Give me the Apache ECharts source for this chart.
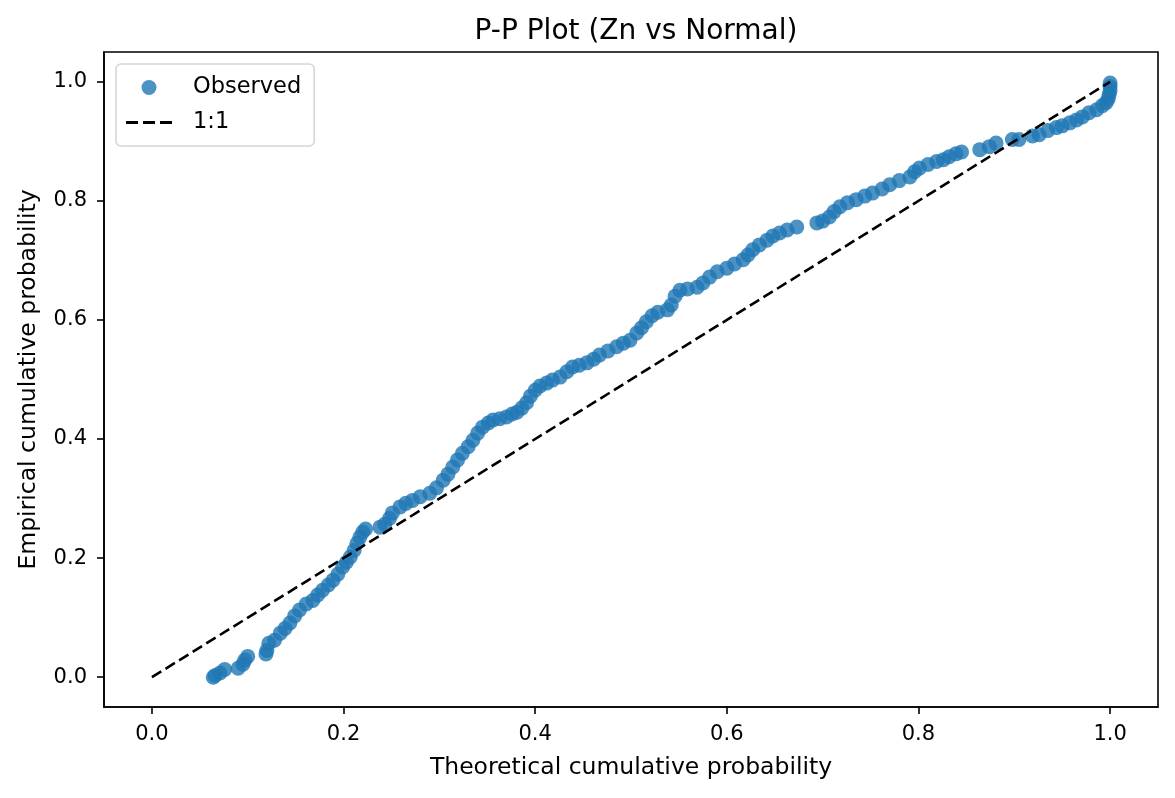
<!DOCTYPE html>
<html>
<head>
<meta charset="utf-8">
<script src="https://cdn.jsdelivr.net/npm/echarts@6/dist/echarts.min.js"></script>
<style>
html,body{margin:0;padding:0;background:#fff;}
#chart{width:1175px;height:798px;}
</style>
</head>
<body>
<div id="chart"></div>
<script>
const observedX = [0.064,0.066,0.071,0.076,0.090,0.095,0.097,0.100,0.119,0.120,0.122,0.128,0.134,0.139,0.144,0.149,0.154,0.161,0.168,0.173,0.178,0.184,0.189,0.194,0.199,0.203,0.207,0.211,0.214,0.217,0.220,0.223,0.238,0.243,0.248,0.251,0.259,0.265,0.272,0.280,0.290,0.297,0.304,0.309,0.314,0.319,0.324,0.330,0.335,0.340,0.345,0.351,0.356,0.363,0.370,0.376,0.381,0.386,0.391,0.395,0.400,0.405,0.412,0.418,0.426,0.433,0.439,0.446,0.454,0.461,0.467,0.476,0.485,0.492,0.499,0.506,0.511,0.516,0.522,0.528,0.538,0.542,0.546,0.551,0.559,0.569,0.575,0.582,0.590,0.600,0.608,0.617,0.622,0.627,0.634,0.642,0.648,0.655,0.663,0.673,0.694,0.700,0.707,0.712,0.718,0.726,0.735,0.744,0.752,0.762,0.770,0.780,0.791,0.796,0.801,0.810,0.819,0.826,0.832,0.839,0.845,0.864,0.874,0.881,0.898,0.905,0.919,0.926,0.935,0.944,0.950,0.958,0.965,0.971,0.978,0.986,0.992,0.996,0.998,0.999,1.000,1.000,1.000];
const observedY = [0.000,0.003,0.007,0.013,0.015,0.022,0.029,0.035,0.039,0.045,0.057,0.062,0.074,0.082,0.091,0.103,0.113,0.123,0.129,0.138,0.146,0.155,0.163,0.173,0.185,0.193,0.202,0.213,0.225,0.235,0.244,0.249,0.252,0.257,0.267,0.276,0.286,0.292,0.297,0.303,0.309,0.318,0.331,0.341,0.353,0.365,0.376,0.387,0.398,0.410,0.420,0.427,0.432,0.434,0.437,0.442,0.445,0.452,0.461,0.472,0.482,0.489,0.494,0.499,0.504,0.513,0.521,0.524,0.528,0.534,0.541,0.548,0.555,0.561,0.566,0.578,0.587,0.597,0.607,0.613,0.617,0.625,0.640,0.650,0.652,0.655,0.662,0.672,0.681,0.687,0.694,0.701,0.709,0.718,0.726,0.734,0.741,0.746,0.751,0.756,0.763,0.766,0.773,0.782,0.790,0.797,0.802,0.808,0.813,0.820,0.827,0.834,0.840,0.849,0.855,0.861,0.866,0.869,0.874,0.879,0.882,0.886,0.891,0.897,0.903,0.903,0.909,0.911,0.918,0.923,0.926,0.931,0.936,0.941,0.948,0.953,0.960,0.965,0.971,0.978,0.985,0.992,0.998];
const refLineX = [0, 1];
const refLineY = [0, 1];
const tickValues = [0, 0.2, 0.4, 0.6, 0.8, 1.0];

const FONT = 'DejaVu Sans';
const chart = echarts.init(document.getElementById('chart'), null, {renderer: 'canvas'});
const axisCommon = {
  type: 'value', min: -0.05, max: 1.05,
  splitLine: {show: false},
  axisLine: {show: true, onZero: false, lineStyle: {color: '#000', width: 1.6}},
  axisTick: {show: true, inside: false, length: 7, lineStyle: {color: '#000', width: 1.6}, customValues: tickValues},
  axisLabel: {color: '#000', fontFamily: FONT, fontSize: 21, margin: 17, customValues: tickValues,
              formatter: v => v.toFixed(1)},
  nameLocation: 'middle',
  nameTextStyle: {color: '#000', fontFamily: FONT, fontSize: 23.5}
};
// dashed legend glyph (three dashes), with near-invisible corner points fixing its box
const dashIcon = 'path://M0,0h0.01v0.01h-0.01zM46,14h0.01v0.01h-0.01zM0,5.5h12v3h-12zM17,5.5h12v3h-12zM34,5.5h12v3h-12z';
chart.setOption({
  animation: false,
  backgroundColor: '#fff',
  title: {text: 'P-P Plot (Zn vs Normal)', left: 631, textAlign: 'center', top: 13,
          textStyle: {fontFamily: FONT, fontSize: 28, fontWeight: 'normal', color: '#000'}},
  grid: {left: 104, right: 17, top: 52, bottom: 91, show: true, borderColor: '#000', borderWidth: 1.6, containLabel: false},
  xAxis: Object.assign({}, axisCommon, {name: 'Theoretical cumulative probability', nameGap: 49}),
  yAxis: Object.assign({}, axisCommon, {name: 'Empirical cumulative probability', nameGap: 63}),
  legend: {
    left: 116, top: 64, orient: 'vertical',
    backgroundColor: '#fff', borderColor: '#d6d6d6', borderWidth: 1.6, borderRadius: 5,
    padding: [12, 13, 12, 10], itemGap: 12, itemWidth: 46, itemHeight: 15,
    textStyle: {fontFamily: FONT, fontSize: 22.5, color: '#000', padding: [0, 0, 0, 16]},
    data: [
      {name: 'Observed', icon: 'circle', itemStyle: {color: 'rgb(76,146,195)', opacity: 1}},
      {name: '1:1', icon: dashIcon, itemStyle: {color: '#000', opacity: 1}}
    ]
  },
  series: [
    {
      name: 'Observed', type: 'scatter', symbol: 'circle', symbolSize: 15,
      itemStyle: {color: '#1f77b4', opacity: 0.8},
      data: observedX.map((x, i) => [x, observedY[i]]),
      z: 2
    },
    {
      name: '1:1', type: 'line', symbol: 'none',
      lineStyle: {color: '#000', width: 2.6, type: [11, 5]},
      itemStyle: {color: '#000'},
      data: refLineX.map((x, i) => [x, refLineY[i]]),
      z: 3
    }
  ]
});
</script>
</body>
</html>
